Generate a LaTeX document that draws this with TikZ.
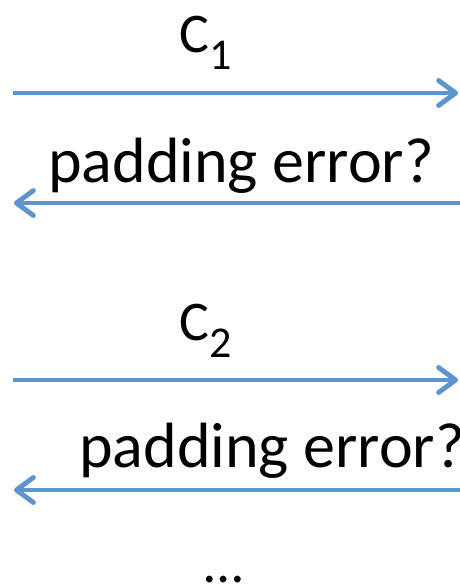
\documentclass[tikz,border=0pt]{standalone}
\usepackage{fontspec}
\setmainfont{Carlito}
\usepackage{xcolor}
\usetikzlibrary{arrows.meta,positioning}
\definecolor{msgblue}{RGB}{93,148,205}
\newcommand{\sub}[1]{\raisebox{-17pt}{\fontsize{44}{44}\selectfont #1}}

\begin{document}
\begin{tikzpicture}[x=1pt,y=-1pt,
  msg/.style={line width=4.8pt,msgblue,-{Straight Barb[length=17pt,width=25pt,round]}},
  shade/.style={msg,black!15,opacity=0.6,shift={(1pt,-3pt)}},
  lbl/.style={anchor=base west,inner sep=0pt,font=\fontsize{56}{56}\selectfont},
  txt/.style={anchor=base west,inner sep=0pt,font=\fontsize{64}{64}\selectfont}]
\useasboundingbox (0,0) rectangle (460,584);
% first query
\coordinate (a1) at (13,93);
\coordinate (b1) at (458,93);
\coordinate (a2) at (460,203);
\coordinate (b2) at (14,203);
\node[lbl] (c1) at (179,52) {C\sub{1}};
\node[txt] (r1) at (48,182) {padding error?};
\draw[shade] (a1) -- (b1);
\draw[shade] (a2) -- (b2);
\draw[msg] (a1) -- (b1);
\draw[msg] (a2) -- (b2);
% second query
\coordinate (a3) at (13,380);
\coordinate (b3) at (458,380);
\coordinate (a4) at (460,490);
\coordinate (b4) at (14,490);
\node[lbl] (c2) at (179,340) {C\sub{2}};
\node[txt] (r2) at (79,467) {padding error?};
\draw[shade] (a3) -- (b3);
\draw[shade] (a4) -- (b4);
\draw[msg] (a3) -- (b3);
\draw[msg] (a4) -- (b4);
\node[lbl,anchor=base] (dots) at (224,582) {…};
\end{tikzpicture}
\end{document}
